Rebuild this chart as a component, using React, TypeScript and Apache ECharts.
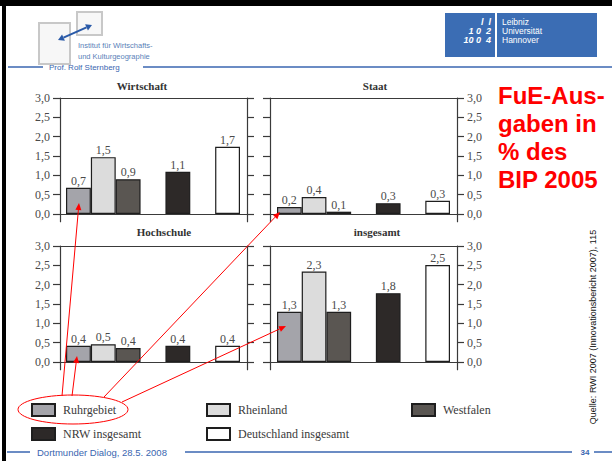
import React, { useEffect, useRef } from "react";
import * as echarts from "echarts";

// ---- data ----
const regions = ["Ruhrgebiet", "Rheinland", "Westfalen", "NRW insgesamt", "Deutschland insgesamt"];
const categories = ["Ruhrgebiet", "Rheinland", "Westfalen", "gap1", "NRW insgesamt", "gap2", "Deutschland insgesamt"];
const wirtschaft = [0.68, 1.47, 0.9, 1.09, 1.74];
const staat = [0.18, 0.44, 0.06, 0.28, 0.34];
const hochschule = [0.42, 0.46, 0.36, 0.42, 0.42];
const insgesamt = [1.3, 2.34, 1.3, 1.78, 2.51];
const tickValues = [0, 0.5, 1, 1.5, 2, 2.5, 3];
const panelTitles = ["Wirtschaft", "Staat", "Hochschule", "insgesamt"];
const titleLines = ["FuE-Aus-", "gaben in", "% des", "BIP 2005"];

// ---- styles / layout ----
const colors = ["#a4a4aa", "#dcdcdc", "#5a5652", "#2d2928", "#ffffff"];
const SERIF = "'Liberation Serif', 'DejaVu Serif', serif";
const SANS = "'Liberation Sans', Arial, sans-serif";
const BLUE = "#3a66b0";
const panelValues = [wirtschaft, staat, hochschule, insgesamt];
const layout = [
  { left: 60, top: 98, barLeft: 66, barW: 174, side: "left", tx: 142, ty: 86 },
  { left: 270, top: 98, barLeft: 277, barW: 173, side: "right", tx: 375, ty: 86 },
  { left: 60, top: 246, barLeft: 66, barW: 174, side: "left", tx: 164, ty: 232 },
  { left: 270, top: 246, barLeft: 277, barW: 173, side: "right", tx: 377, ty: 232 },
];
const PW = 187;
const PH = 116;
const fmt = (v: number) => v.toFixed(1).replace(".", ",");

function arrow(x1: number, y1: number, x2: number, y2: number) {
  const a = Math.atan2(y2 - y1, x2 - x1);
  const L = 7, W = 3;
  const bx = x2 - L * Math.cos(a), by = y2 - L * Math.sin(a);
  const nx = -Math.sin(a), ny = Math.cos(a);
  return [
    { type: "line", z: 100, shape: { x1, y1, x2: bx, y2: by }, style: { stroke: "#ff0000", lineWidth: 1 } },
    {
      type: "polygon", z: 100,
      shape: { points: [[x2, y2], [bx + W * nx, by + W * ny], [bx - W * nx, by - W * ny]] },
      style: { fill: "#ff0000" },
    },
  ];
}

export default function App() {
  const ref = useRef<HTMLDivElement>(null);
  useEffect(() => {
    if (!ref.current) return;
    const chart = echarts.init(ref.current, null, { renderer: "svg" });
    const grid: any[] = [];
    const xAxis: any[] = [];
    const yAxis: any[] = [];
    const series: any[] = [];
    const axisLineStyle = { color: "#3a3a3a", width: 1.2 };
    layout.forEach((L, p) => {
      grid.push({ left: L.left, top: L.top, width: PW, height: (PH * 3.2) / 3 });
      grid.push({ left: L.barLeft, top: L.top, width: L.barW, height: PH });
      xAxis.push({
        gridIndex: 2 * p, type: "value", min: 0, max: 1, position: "bottom",
        axisLine: { show: true, onZero: true, lineStyle: axisLineStyle },
        axisTick: { show: false }, axisLabel: { show: false }, splitLine: { show: false },
      });
      xAxis.push({
        gridIndex: 2 * p, type: "value", min: 0, max: 1, position: "top",
        axisLine: { show: true, onZero: false, lineStyle: axisLineStyle },
        axisTick: { show: false }, axisLabel: { show: false }, splitLine: { show: false },
      });
      xAxis.push({ gridIndex: 2 * p + 1, type: "category", data: categories, show: false });
      ["left", "right"].forEach((pos) => {
        yAxis.push({
          gridIndex: 2 * p, type: "value", min: -0.2, max: 3, position: pos,
          axisLine: { show: true, onZero: false, lineStyle: axisLineStyle },
          axisTick: { show: true, inside: false, length: 7, customValues: tickValues, lineStyle: axisLineStyle },
          axisLabel: {
            show: L.side === pos, customValues: tickValues, formatter: (v: number) => fmt(v),
            margin: 10, fontFamily: SERIF, fontSize: 12, color: "#4a4a4a",
          },
          splitLine: { show: false },
        });
      });
      yAxis.push({ gridIndex: 2 * p + 1, type: "value", min: 0, max: 3, show: false });
      regions.forEach((r, i) => {
        series.push({
          type: "bar", name: r, xAxisIndex: 3 * p + 2, yAxisIndex: 3 * p + 2,
          data: categories.map((c) => (c === r ? panelValues[p][i] : null)),
          barGap: "-100%", barCategoryGap: "0%",
          itemStyle: { color: colors[i], borderColor: "#1e1e1e", borderWidth: 1.2 },
          label: {
            show: true, position: "top", distance: 1,
            formatter: (prm: any) => fmt(prm.value), fontFamily: SERIF, fontSize: 12, color: "#4a4a4a",
          },
        });
      });
    });

    const legendPos = [
      [31, 403], [206, 403], [411, 403], [31, 427], [206, 427],
    ];
    const legend = regions.map((r, i) => ({
      data: [r], left: legendPos[i][0], top: legendPos[i][1], icon: "rect",
      itemWidth: 23, itemHeight: 12, padding: 0, selectedMode: false,
      textStyle: { fontFamily: SERIF, fontSize: 12, color: "#3a3a3a", padding: [0, 0, 0, 3] },
    }));

    const graphics: any[] = [
      { type: "rect", shape: { x: 0, y: 0, width: 612, height: 6 }, style: { fill: "#000" } },
      { type: "rect", shape: { x: 2, y: 0, width: 4, height: 461 }, style: { fill: "#000" } },
      // header left logo
      { type: "rect", shape: { x: 39, y: 23, width: 31, height: 41 }, style: { fill: "#f7f7f7", stroke: "#c8c8c8", lineWidth: 2 } },
      { type: "rect", shape: { x: 77, y: 12, width: 25, height: 23 }, style: { fill: "#f7f7f7", stroke: "#c8c8c8", lineWidth: 2 } },
      ...arrowDouble(58, 40, 92, 25),
      { type: "text", x: 78, y: 45, style: { text: "Institut für Wirtschafts-", font: `7.5px ${SANS}`, fill: "#5a7fb8", verticalAlign: "middle" } },
      { type: "text", x: 78, y: 56, style: { text: "und Kulturgeographie", font: `7.5px ${SANS}`, fill: "#5a7fb8", verticalAlign: "middle" } },
      { type: "line", shape: { x1: 8, y1: 67, x2: 43, y2: 67 }, style: { stroke: BLUE, lineWidth: 1.5 } },
      { type: "line", shape: { x1: 143, y1: 67, x2: 612, y2: 67 }, style: { stroke: BLUE, lineWidth: 1.5 } },
      { type: "text", x: 49, y: 67, style: { text: "Prof. Rolf Sternberg", font: `8px ${SANS}`, fill: BLUE, verticalAlign: "middle" } },
      // Leibniz logo
      { type: "rect", shape: { x: 445, y: 13, width: 50, height: 44 }, style: { fill: "#3b6db4" } },
      { type: "rect", shape: { x: 497, y: 13, width: 100, height: 44 }, style: { fill: "#3b6db4" } },
      { type: "text", x: 491, y: 22, style: { text: "l  l", font: `italic bold 9px ${SANS}`, fill: "#fff", align: "right", verticalAlign: "middle" } },
      { type: "text", x: 491, y: 31, style: { text: "1 0  2", font: `italic bold 9px ${SANS}`, fill: "#fff", align: "right", verticalAlign: "middle" } },
      { type: "text", x: 491, y: 40, style: { text: "10 0  4", font: `italic bold 9px ${SANS}`, fill: "#fff", align: "right", verticalAlign: "middle" } },
      { type: "text", x: 502, y: 22, style: { text: "Leibniz", font: `8.5px ${SANS}`, fill: "#fff", verticalAlign: "middle" } },
      { type: "text", x: 502, y: 31, style: { text: "Universität", font: `8.5px ${SANS}`, fill: "#fff", verticalAlign: "middle" } },
      { type: "text", x: 502, y: 40, style: { text: "Hannover", font: `8.5px ${SANS}`, fill: "#fff", verticalAlign: "middle" } },
      // footer
      { type: "line", shape: { x1: 7, y1: 452, x2: 30, y2: 452 }, style: { stroke: BLUE, lineWidth: 1.5 } },
      { type: "line", shape: { x1: 185, y1: 452, x2: 572, y2: 452 }, style: { stroke: BLUE, lineWidth: 1.5 } },
      { type: "line", shape: { x1: 594, y1: 452, x2: 612, y2: 452 }, style: { stroke: BLUE, lineWidth: 1.5 } },
      { type: "text", x: 37, y: 452, style: { text: "Dortmunder Dialog, 28.5. 2008", font: `9.5px ${SANS}`, fill: BLUE, verticalAlign: "middle" } },
      { type: "text", x: 585, y: 452, style: { text: "34", font: `bold 8px ${SANS}`, fill: BLUE, align: "center", verticalAlign: "middle" } },
      // source
      {
        type: "text", x: 593, y: 327, rotation: Math.PI / 2,
        style: { text: "Quelle: RWI 2007 (Innovationsbericht 2007), 115", font: `9px ${SANS}`, fill: "#111", align: "center", verticalAlign: "middle" },
      },
      // red title
      ...titleLines.map((t, i) => ({
        type: "text", x: 498, y: 95 + i * 28,
        style: { text: t, font: `bold 24px ${SANS}`, fill: "#ff0000", verticalAlign: "middle" },
      })),
      // panel titles
      ...panelTitles.map((t, i) => ({
        type: "text", x: layout[i].tx, y: layout[i].ty,
        style: { text: t, font: `bold 11px ${SANS.replace(SANS, SERIF)}`, fill: "#333", align: "center", verticalAlign: "middle" },
      })),
      // red annotations
      { type: "ellipse", z: 100, shape: { cx: 73, cy: 409.5, rx: 55, ry: 14.5 }, style: { fill: "none", stroke: "#ff0000", lineWidth: 1 } },
      ...arrow(62, 396, 79, 203),
      ...arrow(72, 396, 77, 356),
      ...arrow(104, 397, 280, 212),
      ...arrow(122, 402, 286, 326),
    ];

    function arrowDouble(x1: number, y1: number, x2: number, y2: number) {
      const a = Math.atan2(y2 - y1, x2 - x1);
      const Lh = 6, W = 3.5;
      const nx = -Math.sin(a), ny = Math.cos(a);
      const c = Math.cos(a), s = Math.sin(a);
      const b2x = x2 - Lh * c, b2y = y2 - Lh * s;
      const b1x = x1 + Lh * c, b1y = y1 + Lh * s;
      return [
        { type: "line", shape: { x1: b1x, y1: b1y, x2: b2x, y2: b2y }, style: { stroke: "#2a5aa8", lineWidth: 2 } },
        { type: "polygon", shape: { points: [[x2, y2], [b2x + W * nx, b2y + W * ny], [b2x - W * nx, b2y - W * ny]] }, style: { fill: "#2a5aa8" } },
        { type: "polygon", shape: { points: [[x1, y1], [b1x + W * nx, b1y + W * ny], [b1x - W * nx, b1y - W * ny]] }, style: { fill: "#2a5aa8" } },
      ];
    }

    chart.setOption({
      animation: false,
      backgroundColor: "#ffffff",
      grid, xAxis, yAxis, series, legend,
      graphic: { elements: graphics },
    });
    return () => chart.dispose();
  }, []);
  return <div ref={ref} style={{ position: "fixed", left: 0, top: 0, width: 612, height: 461 }} />;
}
